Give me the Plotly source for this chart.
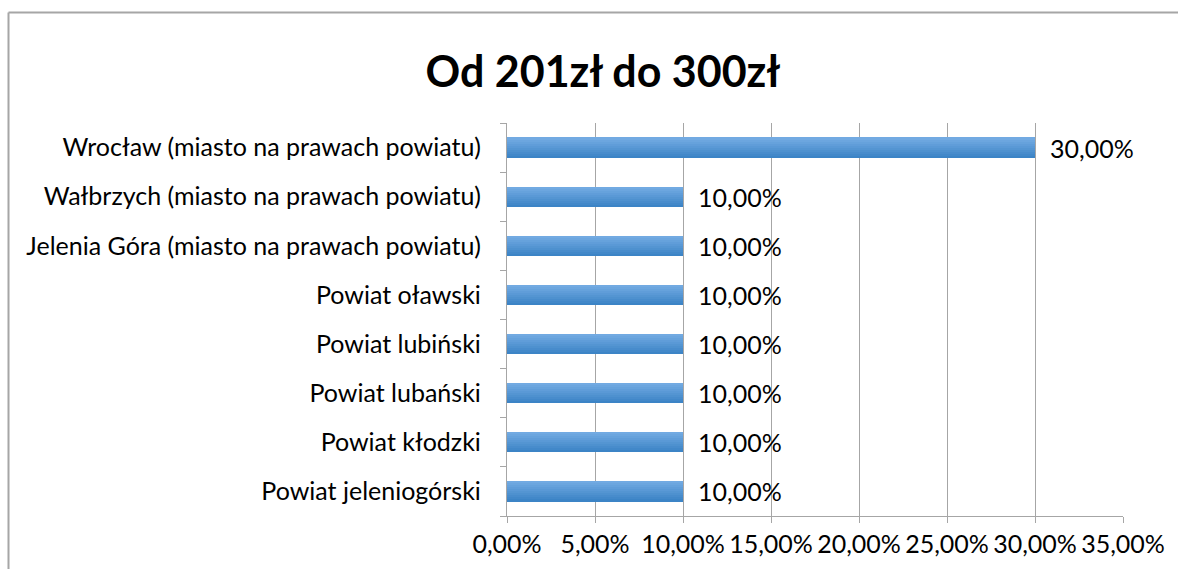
import plotly.graph_objects as go

# Data (bottom to top)
categories = [
    "Powiat jeleniogórski",
    "Powiat kłodzki",
    "Powiat lubański",
    "Powiat lubiński",
    "Powiat oławski",
    "Jelenia Góra (miasto na prawach powiatu)",
    "Wałbrzych (miasto na prawach powiatu)",
    "Wrocław (miasto na prawach powiatu)",
]
values = [0.10, 0.10, 0.10, 0.10, 0.10, 0.10, 0.10, 0.30]
x_ticks = [0, 0.05, 0.10, 0.15, 0.20, 0.25, 0.30, 0.35]
title_text = "Od 201zł do 300zł"

W, H = 1178, 569
L, R, T, B = 507, 55, 123, 53
FONT = "Lato, 'Open Sans', sans-serif"
FS = 25

fig = go.Figure()

# gradient bars: stacked thin strips from dark (bottom) to light (top)
n_strips = 10
bar_w = 0.41
dark = (0x3c, 0x84, 0xc6)
light = (0x72, 0xaa, 0xe2)
for i in range(n_strips):
    t = i / (n_strips - 1)
    c = tuple(round(dark[k] + (light[k] - dark[k]) * t) for k in range(3))
    fig.add_trace(go.Bar(
        x=values, y=categories, orientation="h",
        width=bar_w / n_strips + 0.002,
        offset=-bar_w / 2 + i * bar_w / n_strips,
        marker=dict(color="rgb(%d,%d,%d)" % c, line=dict(width=0)),
        showlegend=False, hoverinfo="skip",
    ))

for v, c in zip(values, categories):
    fig.add_annotation(
        x=v, y=c, xref="x", yref="y", text=("%.2f%%" % (v * 100)).replace(".", ","),
        showarrow=False, xanchor="left", yanchor="middle", xshift=13,
        font=dict(family=FONT, size=FS, color="#000000"),
    )

pw = W - L - R
ph = H - T - B
bx0 = (8.5 - L) / pw
bx1 = (W + 20 - L) / pw
by0 = -(B + 20) / ph
by1 = (H - B - 12.5) / ph
border = dict(color="#a6a6a6", width=2)
fig.add_shape(type="line", xref="paper", yref="paper", x0=bx0, x1=bx1, y0=by1, y1=by1, line=border)
fig.add_shape(type="line", xref="paper", yref="paper", x0=bx0, x1=bx0, y0=by0, y1=by1, line=border)

fig.update_layout(
    width=W, height=H,
    margin=dict(l=L, r=R, t=T, b=B, autoexpand=False),
    paper_bgcolor="white", plot_bgcolor="white",
    barmode="overlay", bargap=0,
    separators=",.",
    title=dict(
        text="<b>%s</b>" % title_text, xref="paper", x=(603 - L) / pw, xanchor="center",
        yref="container", y=1 - 72 / H, yanchor="middle",
        font=dict(family=FONT, size=43, color="#000000"),
    ),
    xaxis=dict(
        range=[0, 0.35], tickvals=x_ticks, tickformat=".2%",
        showgrid=True, gridcolor="#a6a6a6", gridwidth=1.3,
        showline=True, linecolor="#a6a6a6", linewidth=1.3,
        ticks="outside", ticklen=6, tickcolor="#a6a6a6",
        tickfont=dict(family=FONT, size=FS, color="#000000"),
        zeroline=False, fixedrange=True,
    ),
    yaxis=dict(
        showgrid=False, showline=True, linecolor="#a6a6a6", linewidth=1.3,
        ticks="outside", ticklen=6, tickcolor="#a6a6a6", tickson="boundaries",
        tickfont=dict(family=FONT, size=FS, color="#000000"),
        ticklabelstandoff=20,
        range=[-0.5, len(categories) - 0.5],
    ),
)

fig.write_html(
    "out.html",
    config={"displayModeBar": False},
    post_script="document.body.style.margin='0';document.body.style.overflow='hidden';",
)
